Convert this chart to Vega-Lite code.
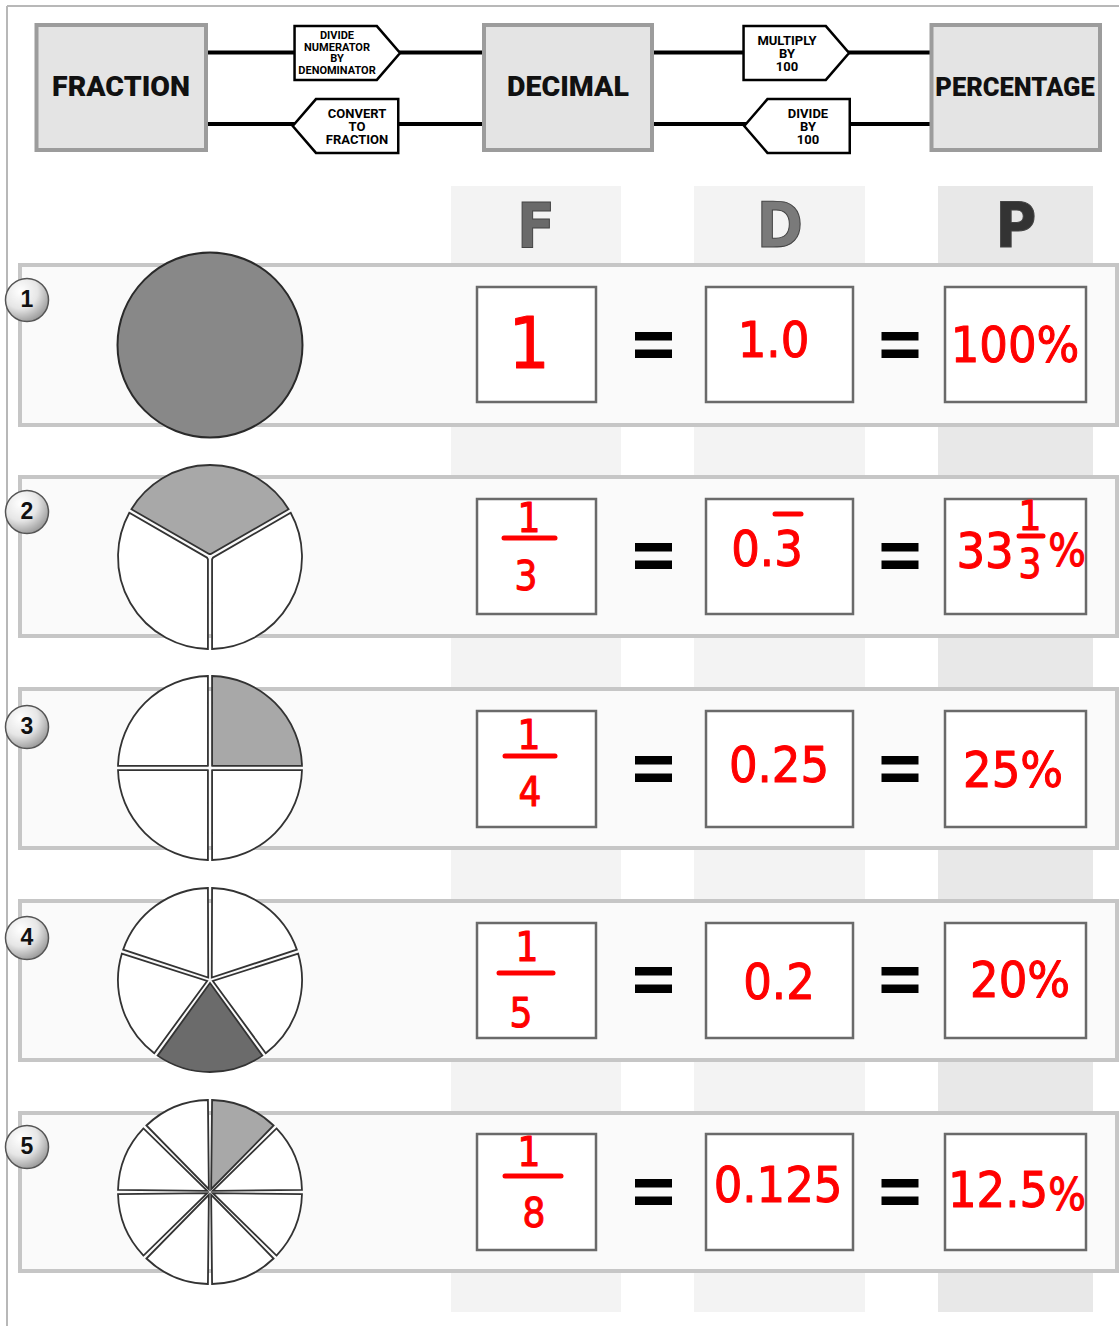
{
  "$schema": "https://vega.github.io/schema/vega-lite/v6.json",
  "width": 1120,
  "height": 1328,
  "autosize": {"type": "none"},
  "padding": 0,
  "background": "#ffffff",
  "config": {"view": {"stroke": null}},
  "datasets": {
    "frame": [
      {"x": 7, "y": 6, "x2": 1119, "y2": 6},
      {"x": 7, "y": 6, "x2": 7, "y2": 1326}
    ],
    "strips": [
      {"x": 451, "x2": 621, "y": 186, "y2": 1312, "t": "F"},
      {"x": 694, "x2": 865, "y": 186, "y2": 1312, "t": "D"},
      {"x": 938, "x2": 1093, "y": 186, "y2": 1312, "t": "P"}
    ],
    "bands": [
      {"x": 20, "x2": 1117, "y": 265, "y2": 425},
      {"x": 20, "x2": 1117, "y": 477, "y2": 636},
      {"x": 20, "x2": 1117, "y": 689, "y2": 848},
      {"x": 20, "x2": 1117, "y": 901, "y2": 1060},
      {"x": 20, "x2": 1117, "y": 1113, "y2": 1271}
    ],
    "headers": [
      {"x": 36.5, "x2": 206, "y": 25, "y2": 150, "cx": 121, "cy": 96, "label": "FRACTION"},
      {"x": 484, "x2": 652, "y": 25, "y2": 150, "cx": 568, "cy": 96, "label": "DECIMAL"},
      {"x": 931.5, "x2": 1100, "y": 25, "y2": 150, "cx": 1015, "cy": 96, "label": "PERCENTAGE"}
    ],
    "connectors": [
      {"x": 208, "x2": 482, "y": 52.5},
      {"x": 208, "x2": 482, "y": 124},
      {"x": 654, "x2": 930, "y": 52.5},
      {"x": 654, "x2": 930, "y": 124}
    ],
    "arrows": [
      {"x": 347.3, "y": 53, "dir": "right"},
      {"x": 345.5, "y": 126, "dir": "left"},
      {"x": 796.3, "y": 53, "dir": "right"},
      {"x": 797, "y": 126, "dir": "left"}
    ],
    "arrowText4": [
      {"x": 337, "y": 36, "t": "DIVIDE\nNUMERATOR\nBY\nDENOMINATOR"}
    ],
    "arrowText3": [
      {"x": 357, "y": 114, "t": "CONVERT\nTO\nFRACTION"},
      {"x": 787, "y": 41, "t": "MULTIPLY\nBY\n100"},
      {"x": 808, "y": 114, "t": "DIVIDE\nBY\n100"}
    ],
    "letters": [
      {"x": 536, "y": 247, "t": "F"},
      {"x": 780, "y": 247, "t": "D"},
      {"x": 1016, "y": 247, "t": "P"}
    ],
    "whole": [
      {"x": 210, "y": 345}
    ],
    "slices": [
      {"x": 210, "y": 557, "a0": -60, "a1": 60, "t": "light"},
      {"x": 210, "y": 557, "a0": 60, "a1": 180, "t": "white"},
      {"x": 210, "y": 557, "a0": 180, "a1": 300, "t": "white"},
      {"x": 210, "y": 768, "a0": 0, "a1": 90, "t": "light"},
      {"x": 210, "y": 768, "a0": 90, "a1": 180, "t": "white"},
      {"x": 210, "y": 768, "a0": 180, "a1": 270, "t": "white"},
      {"x": 210, "y": 768, "a0": 270, "a1": 360, "t": "white"},
      {"x": 210, "y": 980, "a0": 0, "a1": 72, "t": "white"},
      {"x": 210, "y": 980, "a0": 72, "a1": 144, "t": "white"},
      {"x": 210, "y": 980, "a0": 144, "a1": 216, "t": "dark"},
      {"x": 210, "y": 980, "a0": 216, "a1": 288, "t": "white"},
      {"x": 210, "y": 980, "a0": 288, "a1": 360, "t": "white"},
      {"x": 210, "y": 1192, "a0": 0, "a1": 45, "t": "light"},
      {"x": 210, "y": 1192, "a0": 45, "a1": 90, "t": "white"},
      {"x": 210, "y": 1192, "a0": 90, "a1": 135, "t": "white"},
      {"x": 210, "y": 1192, "a0": 135, "a1": 180, "t": "white"},
      {"x": 210, "y": 1192, "a0": 180, "a1": 225, "t": "white"},
      {"x": 210, "y": 1192, "a0": 225, "a1": 270, "t": "white"},
      {"x": 210, "y": 1192, "a0": 270, "a1": 315, "t": "white"},
      {"x": 210, "y": 1192, "a0": 315, "a1": 360, "t": "white"}
    ],
    "badges": [
      {"x": 27, "y": 300, "n": "1"},
      {"x": 27, "y": 512, "n": "2"},
      {"x": 27, "y": 727, "n": "3"},
      {"x": 27, "y": 938, "n": "4"},
      {"x": 27, "y": 1147, "n": "5"}
    ],
    "boxes": [
      {"x": 477, "x2": 596, "y": 287, "y2": 402},
      {"x": 706, "x2": 853, "y": 287, "y2": 402},
      {"x": 945, "x2": 1086, "y": 287, "y2": 402},
      {"x": 477, "x2": 596, "y": 499, "y2": 614},
      {"x": 706, "x2": 853, "y": 499, "y2": 614},
      {"x": 945, "x2": 1086, "y": 499, "y2": 614},
      {"x": 477, "x2": 596, "y": 711, "y2": 827},
      {"x": 706, "x2": 853, "y": 711, "y2": 827},
      {"x": 945, "x2": 1086, "y": 711, "y2": 827},
      {"x": 477, "x2": 596, "y": 923, "y2": 1038},
      {"x": 706, "x2": 853, "y": 923, "y2": 1038},
      {"x": 945, "x2": 1086, "y": 923, "y2": 1038},
      {"x": 477, "x2": 596, "y": 1134, "y2": 1250},
      {"x": 706, "x2": 853, "y": 1134, "y2": 1250},
      {"x": 945, "x2": 1086, "y": 1134, "y2": 1250}
    ],
    "equals": [
      {"x": 653.5, "y": 345}, {"x": 900, "y": 345},
      {"x": 653.5, "y": 556}, {"x": 900, "y": 556},
      {"x": 653.5, "y": 769}, {"x": 900, "y": 769},
      {"x": 653.5, "y": 980}, {"x": 900, "y": 980},
      {"x": 653.5, "y": 1192}, {"x": 900, "y": 1192}
    ],
    "red": [
      {"x": 529, "y": 368, "t": "1", "k": "xl"},
      {"x": 773.5, "y": 357, "t": "1.0", "k": "l"},
      {"x": 1015, "y": 362, "t": "100%", "k": "l"},
      {"x": 529, "y": 532, "t": "1", "k": "s"},
      {"x": 526, "y": 590, "t": "3", "k": "s"},
      {"x": 767, "y": 566, "t": "0.3", "k": "l"},
      {"x": 985, "y": 568, "t": "33", "k": "l"},
      {"x": 1030, "y": 530, "t": "1", "k": "s"},
      {"x": 1030, "y": 578, "t": "3", "k": "s"},
      {"x": 1067, "y": 566, "t": "%", "k": "m"},
      {"x": 529, "y": 749, "t": "1", "k": "s"},
      {"x": 530, "y": 806, "t": "4", "k": "s"},
      {"x": 779, "y": 782, "t": "0.25", "k": "l"},
      {"x": 1013, "y": 787, "t": "25%", "k": "l"},
      {"x": 527, "y": 961, "t": "1", "k": "s"},
      {"x": 521, "y": 1027, "t": "5", "k": "s"},
      {"x": 779, "y": 999, "t": "0.2", "k": "l"},
      {"x": 1020, "y": 997, "t": "20%", "k": "l"},
      {"x": 529, "y": 1166, "t": "1", "k": "s"},
      {"x": 534, "y": 1227, "t": "8", "k": "s"},
      {"x": 778, "y": 1202, "t": "0.125", "k": "l"},
      {"x": 998, "y": 1207, "t": "12.5", "k": "l"},
      {"x": 1067, "y": 1210, "t": "%", "k": "m"}
    ],
    "redBars": [
      {"x": 504, "x2": 555, "y": 538},
      {"x": 1019, "x2": 1043, "y": 536},
      {"x": 505, "x2": 555, "y": 756},
      {"x": 499, "x2": 553, "y": 973},
      {"x": 505, "x2": 561, "y": 1176},
      {"x": 775, "x2": 801, "y": 514}
    ]
  },
  "layer": [
    {
      "data": {"name": "frame"},
      "mark": {"type": "rule", "color": "#b8b8b8", "strokeWidth": 2},
      "encoding": {
        "x": {"field": "x", "type": "quantitative", "scale": {"domain": [0, 1120], "nice": false}, "axis": null},
        "y": {"field": "y", "type": "quantitative", "scale": {"domain": [0, 1328], "nice": false, "reverse": true}, "axis": null},
        "x2": {"field": "x2"},
        "y2": {"field": "y2"}
      }
    },
    {
      "data": {"name": "strips"},
      "mark": {"type": "rect"},
      "encoding": {
        "x": {"field": "x", "type": "quantitative", "scale": {"domain": [0, 1120], "nice": false}, "axis": null},
        "y": {"field": "y", "type": "quantitative", "scale": {"domain": [0, 1328], "nice": false, "reverse": true}, "axis": null},
        "x2": {"field": "x2"},
        "y2": {"field": "y2"},
        "color": {"field": "t", "type": "nominal", "scale": {"domain": ["F", "D", "P"], "range": ["#f3f3f3", "#f3f3f3", "#e8e8e8"]}, "legend": null}
      }
    },
    {
      "data": {"name": "bands"},
      "mark": {"type": "rect", "fill": "#fafafa", "stroke": "#c6c6c6", "strokeWidth": 4},
      "encoding": {
        "x": {"field": "x", "type": "quantitative", "scale": {"domain": [0, 1120], "nice": false}, "axis": null},
        "y": {"field": "y", "type": "quantitative", "scale": {"domain": [0, 1328], "nice": false, "reverse": true}, "axis": null},
        "x2": {"field": "x2"},
        "y2": {"field": "y2"}
      }
    },
    {
      "data": {"name": "connectors"},
      "mark": {"type": "rule", "color": "#000000", "strokeWidth": 4},
      "encoding": {
        "x": {"field": "x", "type": "quantitative", "scale": {"domain": [0, 1120], "nice": false}, "axis": null},
        "y": {"field": "y", "type": "quantitative", "scale": {"domain": [0, 1328], "nice": false, "reverse": true}, "axis": null},
        "x2": {"field": "x2"}
      }
    },
    {
      "data": {"name": "headers"},
      "mark": {"type": "rect", "fill": "#e4e4e4", "stroke": "#9c9c9c", "strokeWidth": 4},
      "encoding": {
        "x": {"field": "x", "type": "quantitative", "scale": {"domain": [0, 1120], "nice": false}, "axis": null},
        "y": {"field": "y", "type": "quantitative", "scale": {"domain": [0, 1328], "nice": false, "reverse": true}, "axis": null},
        "x2": {"field": "x2"},
        "y2": {"field": "y2"}
      }
    },
    {
      "data": {"name": "headers"},
      "mark": {"type": "text", "font": "Roboto", "fontWeight": 900, "color": "#111111", "align": "center", "baseline": "alphabetic"},
      "encoding": {
        "x": {"field": "cx", "type": "quantitative", "scale": {"domain": [0, 1120], "nice": false}, "axis": null},
        "y": {"field": "cy", "type": "quantitative", "scale": {"domain": [0, 1328], "nice": false, "reverse": true}, "axis": null},
        "text": {"field": "label"},
        "size": {"field": "label", "type": "ordinal", "scale": {"type": "ordinal", "domain": ["FRACTION", "DECIMAL", "PERCENTAGE"], "range": [28.5, 28.5, 25.5]}, "legend": null}
      }
    },
    {
      "data": {"name": "arrows"},
      "mark": {"type": "point", "filled": true, "fill": "#ffffff", "stroke": "#000000", "strokeWidth": 2.5, "opacity": 1, "size": 11130},
      "encoding": {
        "x": {"field": "x", "type": "quantitative", "scale": {"domain": [0, 1120], "nice": false}, "axis": null},
        "y": {"field": "y", "type": "quantitative", "scale": {"domain": [0, 1328], "nice": false, "reverse": true}, "axis": null},
        "shape": {"field": "dir", "type": "nominal", "scale": {"domain": ["right", "left"], "range": ["M-1,-0.51L0.56,-0.51L1,0L0.56,0.51L-1,0.51Z", "M1,-0.51L-0.56,-0.51L-1,0L-0.56,0.51L1,0.51Z"]}, "legend": null}
      }
    },
    {
      "data": {"name": "arrowText4"},
      "mark": {"type": "text", "font": "Roboto", "fontWeight": "bold", "fontSize": 11, "lineHeight": 11.5, "lineBreak": "\n", "color": "#000000", "align": "center", "baseline": "middle"},
      "encoding": {
        "x": {"field": "x", "type": "quantitative", "scale": {"domain": [0, 1120], "nice": false}, "axis": null},
        "y": {"field": "y", "type": "quantitative", "scale": {"domain": [0, 1328], "nice": false, "reverse": true}, "axis": null},
        "text": {"field": "t"}
      }
    },
    {
      "data": {"name": "arrowText3"},
      "mark": {"type": "text", "font": "Roboto", "fontWeight": "bold", "fontSize": 13, "lineHeight": 13, "lineBreak": "\n", "color": "#000000", "align": "center", "baseline": "middle"},
      "encoding": {
        "x": {"field": "x", "type": "quantitative", "scale": {"domain": [0, 1120], "nice": false}, "axis": null},
        "y": {"field": "y", "type": "quantitative", "scale": {"domain": [0, 1328], "nice": false, "reverse": true}, "axis": null},
        "text": {"field": "t"}
      }
    },
    {
      "data": {"name": "letters"},
      "mark": {"type": "text", "font": "DejaVu Sans Condensed, sans-serif", "fontWeight": "bold", "fontSize": 62, "align": "center", "baseline": "alphabetic", "stroke": "#444444", "strokeWidth": 1},
      "encoding": {
        "x": {"field": "x", "type": "quantitative", "scale": {"domain": [0, 1120], "nice": false}, "axis": null},
        "y": {"field": "y", "type": "quantitative", "scale": {"domain": [0, 1328], "nice": false, "reverse": true}, "axis": null},
        "text": {"field": "t"},
        "color": {"field": "t", "type": "nominal", "scale": {"domain": ["F", "D", "P"], "range": ["#6a6a6a", "#7a7a7a", "#333333"]}, "legend": null}
      }
    },
    {
      "data": {"name": "whole"},
      "mark": {"type": "point", "shape": "circle", "filled": true, "fill": "#888888", "stroke": "#2a2a2a", "strokeWidth": 2, "opacity": 1, "size": 34225},
      "encoding": {
        "x": {"field": "x", "type": "quantitative", "scale": {"domain": [0, 1120], "nice": false}, "axis": null},
        "y": {"field": "y", "type": "quantitative", "scale": {"domain": [0, 1328], "nice": false, "reverse": true}, "axis": null}
      }
    },
    {
      "data": {"name": "slices"},
      "mark": {"type": "arc", "outerRadius": 92, "innerRadius": 3, "padAngle": 0.045, "stroke": "#333333", "strokeWidth": 1.8},
      "encoding": {
        "x": {"field": "x", "type": "quantitative", "scale": {"domain": [0, 1120], "nice": false}, "axis": null},
        "y": {"field": "y", "type": "quantitative", "scale": {"domain": [0, 1328], "nice": false, "reverse": true}, "axis": null},
        "theta": {"field": "a0", "type": "quantitative", "stack": null, "scale": {"domain": [0, 360], "range": [0, 6.283185307], "nice": false, "zero": false}},
        "theta2": {"field": "a1"},
        "color": {"field": "t", "type": "nominal", "scale": {"domain": ["light", "dark", "white"], "range": ["#a8a8a8", "#6b6b6b", "#ffffff"]}, "legend": null}
      }
    },
    {
      "data": {"name": "badges"},
      "mark": {"type": "point", "shape": "circle", "filled": true, "opacity": 1, "size": 1850, "stroke": "#555555", "strokeWidth": 1.5,
        "fill": {"gradient": "radial", "x1": 0.35, "y1": 0.3, "r1": 0, "x2": 0.35, "y2": 0.3, "r2": 0.8,
          "stops": [{"offset": 0, "color": "#ffffff"}, {"offset": 0.5, "color": "#e6e6e6"}, {"offset": 1, "color": "#8c8c8c"}]}},
      "encoding": {
        "x": {"field": "x", "type": "quantitative", "scale": {"domain": [0, 1120], "nice": false}, "axis": null},
        "y": {"field": "y", "type": "quantitative", "scale": {"domain": [0, 1328], "nice": false, "reverse": true}, "axis": null}
      }
    },
    {
      "data": {"name": "badges"},
      "mark": {"type": "text", "font": "Liberation Sans", "fontWeight": "bold", "fontSize": 23, "color": "#111111", "align": "center", "baseline": "middle"},
      "encoding": {
        "x": {"field": "x", "type": "quantitative", "scale": {"domain": [0, 1120], "nice": false}, "axis": null},
        "y": {"field": "y", "type": "quantitative", "scale": {"domain": [0, 1328], "nice": false, "reverse": true}, "axis": null},
        "text": {"field": "n"}
      }
    },
    {
      "data": {"name": "boxes"},
      "mark": {"type": "rect", "fill": "#ffffff", "stroke": "#6a6a6a", "strokeWidth": 2.5},
      "encoding": {
        "x": {"field": "x", "type": "quantitative", "scale": {"domain": [0, 1120], "nice": false}, "axis": null},
        "y": {"field": "y", "type": "quantitative", "scale": {"domain": [0, 1328], "nice": false, "reverse": true}, "axis": null},
        "x2": {"field": "x2"},
        "y2": {"field": "y2"}
      }
    },
    {
      "data": {"name": "equals"},
      "mark": {"type": "point", "filled": true, "color": "#000000", "opacity": 1, "size": 1369, "shape": "M-1,-0.7H1V-0.24H-1ZM-1,0.24H1V0.7H-1Z"},
      "encoding": {
        "x": {"field": "x", "type": "quantitative", "scale": {"domain": [0, 1120], "nice": false}, "axis": null},
        "y": {"field": "y", "type": "quantitative", "scale": {"domain": [0, 1328], "nice": false, "reverse": true}, "axis": null}
      }
    },
    {
      "data": {"name": "red"},
      "mark": {"type": "text", "font": "DejaVu Sans Condensed, sans-serif", "color": "#ff0000", "stroke": "#ff0000", "strokeWidth": 1, "strokeJoin": "round", "align": "center", "baseline": "alphabetic"},
      "encoding": {
        "x": {"field": "x", "type": "quantitative", "scale": {"domain": [0, 1120], "nice": false}, "axis": null},
        "y": {"field": "y", "type": "quantitative", "scale": {"domain": [0, 1328], "nice": false, "reverse": true}, "axis": null},
        "text": {"field": "t"},
        "size": {"field": "k", "type": "ordinal", "scale": {"type": "ordinal", "domain": ["xl", "l", "m", "s"], "range": [72, 50, 44, 40]}, "legend": null}
      }
    },
    {
      "data": {"name": "redBars"},
      "mark": {"type": "rule", "color": "#ff0000", "strokeWidth": 5, "strokeCap": "round"},
      "encoding": {
        "x": {"field": "x", "type": "quantitative", "scale": {"domain": [0, 1120], "nice": false}, "axis": null},
        "y": {"field": "y", "type": "quantitative", "scale": {"domain": [0, 1328], "nice": false, "reverse": true}, "axis": null},
        "x2": {"field": "x2"}
      }
    }
  ],
  "resolve": {"scale": {"color": "independent", "shape": "independent", "size": "independent"}}
}
